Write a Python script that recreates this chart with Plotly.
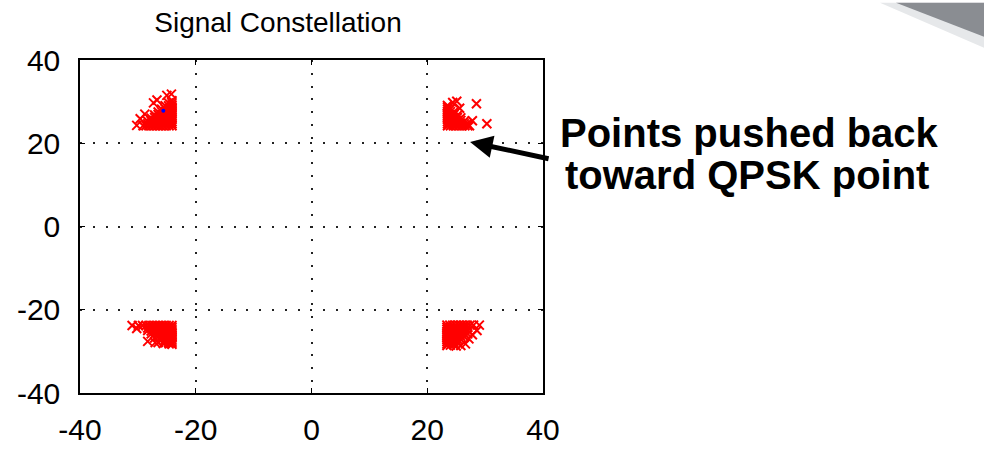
import plotly.graph_objects as go

# ---------------- data ----------------
tick_vals = [-40, -20, 0, 20, 40]
tick_text = ["-40", "-20", "0", "20", "40"]

# upper-right cluster
tr_pts = [
    (23.5, 24.2), (23.5, 24.7), (23.5, 25.2), (23.5, 25.7), (23.5, 26.2), (23.5, 26.7),
    (23.5, 27.2), (23.5, 27.7), (23.5, 28.2), (23.5, 28.7), (23.5, 29.1),
    (24.0, 24.2), (24.5, 24.2), (25.0, 24.2), (25.5, 24.2), (26.0, 24.2), (26.5, 24.2),
    (27.0, 24.2), (27.3, 24.2),
    (24.0, 24.8), (24.0, 25.5), (24.0, 26.2), (24.0, 26.9), (24.0, 27.6), (24.0, 28.3),
    (24.6, 24.8), (24.6, 25.5), (24.6, 26.2), (24.6, 26.9), (24.6, 27.5),
    (25.2, 24.8), (25.2, 25.5), (25.2, 26.2), (25.2, 26.7),
    (25.8, 24.8), (25.8, 25.5), (25.8, 26.1),
    (26.4, 24.7), (26.4, 25.3),
    (26.9, 24.7),
    (24.4, 29.8), (25.1, 30.1), (25.6, 28.4), (28.5, 29.5), (30.3, 24.7), (27.8, 25.4),
]

# upper-left cluster
tl_pts = [
    (-24.1, 24.2), (-24.1, 24.7), (-24.1, 25.2), (-24.1, 25.7), (-24.1, 26.2), (-24.1, 26.7),
    (-24.1, 27.2), (-24.1, 27.7), (-24.1, 28.2), (-24.1, 28.7), (-24.1, 29.2), (-24.1, 29.7),
    (-24.1, 30.2),
    (-24.6, 24.2), (-25.1, 24.2), (-25.6, 24.2), (-26.1, 24.2), (-26.6, 24.2), (-27.1, 24.2),
    (-27.6, 24.2), (-28.1, 24.2), (-28.6, 24.2), (-29.1, 24.2),
    (-24.7, 24.8), (-24.7, 25.5), (-24.7, 26.2), (-24.7, 26.9), (-24.7, 27.6), (-24.7, 28.3),
    (-24.7, 29.0), (-24.7, 29.7),
    (-25.3, 24.8), (-25.3, 25.5), (-25.3, 26.2), (-25.3, 26.9), (-25.3, 27.6), (-25.3, 28.3),
    (-25.3, 29.0),
    (-25.9, 24.8), (-25.9, 25.5), (-25.9, 26.2), (-25.9, 26.9), (-25.9, 27.6), (-25.9, 28.2),
    (-26.5, 24.8), (-26.5, 25.5), (-26.5, 26.2), (-26.5, 26.9), (-26.5, 27.5),
    (-27.1, 24.8), (-27.1, 25.5), (-27.1, 26.2), (-27.1, 26.8),
    (-27.7, 24.8), (-27.7, 25.4), (-27.7, 26.0),
    (-28.3, 24.7), (-28.3, 25.3),
    (-30.2, 24.3), (-29.6, 25.9), (-28.8, 27.0), (-27.3, 29.7), (-26.7, 30.4),
    (-25.0, 31.5), (-24.2, 31.8),
]

# lower-left cluster
bl_pts = [
    (-24.1, -23.8), (-24.6, -23.8), (-25.1, -23.8), (-25.6, -23.8), (-26.1, -23.8),
    (-26.6, -23.8), (-27.1, -23.8), (-27.6, -23.8), (-28.1, -23.8), (-28.6, -23.8),
    (-29.2, -23.8), (-29.9, -23.8), (-31.0, -23.8),
    (-24.1, -24.3), (-24.1, -24.8), (-24.1, -25.3), (-24.1, -25.8), (-24.1, -26.3),
    (-24.1, -26.8), (-24.1, -27.3), (-24.1, -27.8), (-24.1, -28.3),
    (-24.7, -24.4), (-24.7, -25.1), (-24.7, -25.8), (-24.7, -26.5), (-24.7, -27.2), (-24.7, -27.9),
    (-25.3, -24.4), (-25.3, -25.1), (-25.3, -25.8), (-25.3, -26.5), (-25.3, -27.2), (-25.3, -27.9),
    (-25.9, -24.4), (-25.9, -25.1), (-25.9, -25.8), (-25.9, -26.5), (-25.9, -27.2),
    (-26.5, -24.4), (-26.5, -25.1), (-26.5, -25.8), (-26.5, -26.5), (-26.5, -27.9),
    (-27.1, -24.4), (-27.1, -25.1), (-27.1, -25.8), (-27.1, -26.8),
    (-27.7, -24.4), (-27.7, -25.1), (-27.7, -25.8),
    (-28.3, -24.4), (-28.3, -25.0),
    (-30.2, -24.5), (-28.3, -27.6), (-27.0, -27.9), (-25.6, -28.1), (-24.6, -28.2),
]

# lower-right cluster
br_pts = [
    (23.4, -23.7), (23.4, -24.2), (23.4, -24.7), (23.4, -25.2), (23.4, -25.7), (23.4, -26.2),
    (23.4, -26.7), (23.4, -27.2), (23.4, -27.7), (23.4, -28.2), (23.4, -28.6),
    (23.9, -23.7), (24.4, -23.7), (24.9, -23.7), (25.4, -23.7), (25.9, -23.7), (26.4, -23.7),
    (26.9, -23.7), (27.4, -23.7), (28.0, -23.7), (29.0, -23.7),
    (24.0, -24.3), (24.0, -25.0), (24.0, -25.7), (24.0, -26.4), (24.0, -27.1), (24.0, -27.8), (24.0, -28.5),
    (24.6, -24.3), (24.6, -25.0), (24.6, -25.7), (24.6, -26.4), (24.6, -27.1), (24.6, -27.8), (24.6, -28.4),
    (25.2, -24.3), (25.2, -25.0), (25.2, -25.7), (25.2, -26.4), (25.2, -27.1), (25.2, -27.8),
    (25.8, -24.3), (25.8, -25.0), (25.8, -25.7), (25.8, -26.4), (25.8, -27.1),
    (26.4, -24.3), (26.4, -25.0), (26.4, -25.7), (26.4, -26.5),
    (27.0, -24.3), (27.0, -25.0), (27.0, -25.8),
    (28.6, -25.0), (27.8, -26.0), (27.2, -27.0), (26.6, -28.2), (25.8, -28.6), (25.0, -28.7),
]

# single blue reference point
blue_x = [-25.6]
blue_y = [27.8]

title_text = "Signal Constellation"
note_line1 = "Points pushed back"
note_line2 = "toward QPSK point"

# ---------------- figure ----------------
W, H = 984, 458
L, R, T, B = 80, 441, 60, 49
PW, PH = W - L - R, H - T - B


def px_x(px):
    return (px - L) / PW


def px_y(py):
    return (H - B - py) / PH


fig = go.Figure()

for pts in (tr_pts, tl_pts, bl_pts, br_pts):
    fig.add_trace(go.Scatter(
        x=[p[0] for p in pts], y=[p[1] for p in pts],
        mode="markers",
        marker=dict(symbol="x-thin", size=9, line=dict(color="#ff0000", width=2), color="#ff0000"),
        hoverinfo="x+y",
    ))

fig.add_trace(go.Scatter(
    x=blue_x, y=blue_y, mode="markers",
    marker=dict(symbol="circle", size=4, color="#0000ff"),
))

tick_font = dict(family="Liberation Sans, Arial, sans-serif", size=30, color="black")

axis_common = dict(
    range=[-40, 40],
    tickvals=tick_vals, ticktext=tick_text,
    showline=True, linecolor="black", linewidth=1.5, mirror="ticks",
    ticks="inside", ticklen=5, tickwidth=1, tickcolor="black",
    showgrid=True, gridcolor="#222222", gridwidth=1.5, griddash="2px,10.8px",
    zeroline=False, tickfont=tick_font, fixedrange=True,
)

fig.update_xaxes(**axis_common, ticklabelstandoff=9)
fig.update_yaxes(**axis_common, ticklabelstandoff=12)

# gray slide decoration in the top-right corner
fig.add_shape(type="path", xref="paper", yref="paper",
              path=f"M {px_x(880)} {px_y(0)} L {px_x(990)} {px_y(0)} L {px_x(990)} {px_y(50)} Z",
              fillcolor="#e6e8ea", line=dict(width=0), layer="below")
fig.add_shape(type="path", xref="paper", yref="paper",
              path=f"M {px_x(896)} {px_y(0)} L {px_x(990)} {px_y(0)} L {px_x(990)} {px_y(38)} Z",
              fillcolor="#8a8d92", line=dict(width=0), layer="below")

note_font = dict(family="Liberation Sans, Arial, sans-serif", size=40, color="black")
fig.add_annotation(text=f"<b>{note_line1}</b>", xref="paper", yref="paper",
                   x=px_x(558), y=px_y(136), xanchor="left", yanchor="middle",
                   showarrow=False, font=note_font)
fig.add_annotation(text=f"<b>{note_line2}</b>", xref="paper", yref="paper",
                   x=px_x(563), y=px_y(181), xanchor="left", yanchor="middle",
                   showarrow=False, font=note_font)

# arrow pointing at the upper-right cluster
fig.add_annotation(text="", x=27.4, y=20.3, xref="x", yref="y",
                   ax=80, ay=17, showarrow=True,
                   arrowhead=2, arrowsize=0.9, arrowwidth=5, arrowcolor="black")

fig.update_layout(
    width=W, height=H,
    margin=dict(l=L, r=R, t=T, b=B, pad=0),
    paper_bgcolor="white", plot_bgcolor="white",
    showlegend=False,
    title=dict(text=title_text, x=px_x(278), xref="paper", xanchor="center",
               y=1 - 22 / H, yref="container", yanchor="middle",
               font=dict(family="Liberation Sans, Arial, sans-serif",
                         size=28, color="black")),
)

fig.write_html("out.html")
